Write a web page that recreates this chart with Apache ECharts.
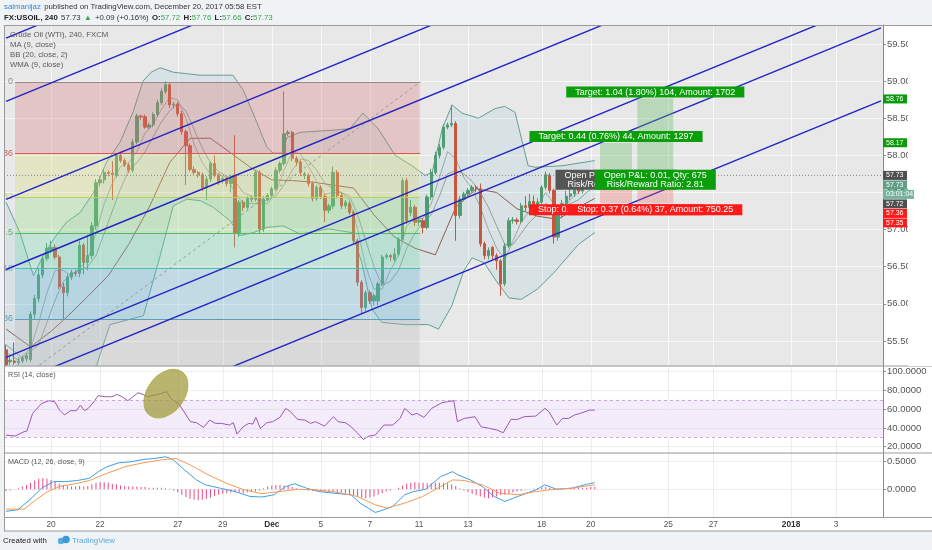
<!DOCTYPE html>
<html><head><meta charset="utf-8"><title>USOIL 240</title>
<script src="https://cdn.jsdelivr.net/npm/echarts@6.0.0/dist/echarts.min.js"></script>
<style>html,body{margin:0;padding:0;background:#f0f3f6;overflow:hidden}#chart{width:932px;height:550px}</style>
</head><body><div id="chart"></div>
<script>
// ================= DATA =================
const SLOTS = 215; // 4h bar slots on the time scale (history + empty future)
const tickIdx = [11,23,42,53,65,77,89,101,113,131,143,162,173,192,203];
const tickLabels = ['20','22','27','29','Dec','5','7','11','13','18','20','25','27','2018','3'];

// [open, close, low, high]
const candles = [
[55.38,55.18,55.16,55.45],[55.22,55.24,55.18,55.30],[55.23,55.21,55.18,55.48],[55.21,55.23,55.17,55.28],
[55.23,55.27,55.20,55.30],[55.26,55.30,55.22,55.34],[55.25,55.86,55.22,55.90],[55.86,56.07,55.80,56.12],
[56.07,56.39,56.02,56.47],[56.39,56.61,56.35,56.65],[56.61,56.75,56.58,56.82],[56.73,56.76,56.68,56.85],
[56.76,56.63,56.60,56.80],[56.63,56.23,56.20,56.66],[56.23,56.15,55.79,56.28],[56.15,56.36,56.10,56.40],
[56.36,56.42,56.32,56.46],[56.42,56.41,56.37,56.46],[56.41,56.79,56.36,56.85],[56.79,56.56,56.40,56.82],
[56.56,56.65,56.45,56.92],[56.65,57.05,56.60,57.10],[57.05,57.63,57.00,57.68],[57.63,57.67,57.58,57.72],
[57.67,57.77,57.62,57.82],[57.77,57.76,57.72,57.80],[57.76,57.74,57.40,57.92],[57.73,58.00,57.70,58.03],
[58.00,57.93,57.90,58.05],[57.93,57.87,57.84,57.96],[57.87,57.80,57.76,57.90],[57.80,58.18,57.77,58.22],
[58.18,58.53,58.15,58.56],[58.53,58.52,58.48,58.55],[58.52,58.38,58.36,58.55],[58.38,58.41,58.35,58.44],
[58.41,58.55,58.38,58.58],[58.55,58.71,58.52,58.75],[58.71,58.86,58.68,58.90],[58.86,58.95,58.83,59.00],
[58.95,58.68,58.64,58.97],[58.68,58.69,58.63,58.72],[58.69,58.56,58.52,58.72],[58.56,58.32,58.28,58.60],
[58.32,58.13,57.60,58.35],[58.13,57.81,57.78,58.16],[57.81,57.77,57.74,57.85],[57.77,57.74,57.70,57.79],
[57.74,57.56,57.52,57.77],[57.56,57.68,57.40,57.72],[57.68,57.89,57.64,57.92],[57.89,57.73,57.70,58.00],
[57.73,57.65,57.60,57.76],[57.67,57.69,57.62,57.72],[57.69,57.62,57.58,57.72],[57.62,57.71,57.50,57.74],
[57.73,56.96,56.76,58.27],[56.96,57.37,56.90,57.40],[57.37,57.30,57.25,57.40],[57.30,57.42,57.27,57.45],
[57.42,57.41,57.37,57.46],[57.41,57.77,57.38,57.80],[57.77,57.01,56.95,57.80],[57.01,57.41,56.97,57.45],
[57.41,57.46,57.38,57.49],[57.46,57.55,57.42,57.58],[57.55,57.80,57.52,57.84],[57.80,57.89,57.76,57.92],
[57.89,58.29,57.86,58.86],[58.29,58.31,58.26,58.34],[58.31,57.96,57.92,58.33],[57.96,57.91,57.86,57.99],
[57.91,57.77,57.72,57.93],[57.73,57.75,57.68,57.78],[57.73,57.62,57.58,57.76],[57.62,57.42,57.38,57.65],
[57.42,57.57,57.39,57.60],[57.57,57.45,57.41,57.60],[57.45,57.26,57.10,57.48],[57.26,57.32,57.22,57.35],
[57.32,57.77,57.28,57.85],[57.77,57.46,57.42,57.80],[57.46,57.32,57.28,57.50],[57.32,57.37,57.28,57.40],
[57.35,57.23,57.20,57.38],[57.23,56.85,56.80,57.26],[56.85,56.29,56.24,56.88],[56.29,55.95,55.86,56.32],
[55.95,56.15,55.90,56.18],[56.15,56.04,56.00,56.18],[56.04,56.11,55.98,56.14],[56.04,56.27,55.98,56.30],
[56.27,56.63,56.24,56.66],[56.63,56.65,56.60,56.68],[56.65,56.63,56.58,56.67],[56.60,56.67,56.56,56.75],
[56.67,56.87,56.64,56.90],[56.87,57.66,56.85,57.70],[57.66,57.12,57.08,57.70],[57.23,57.30,57.18,57.40],
[57.30,57.10,57.05,57.33],[57.10,57.13,57.05,57.16],[57.12,57.03,56.95,57.15],[57.03,57.44,57.00,57.47],
[57.44,57.77,57.40,57.82],[57.77,58.00,57.74,58.05],[58.00,58.11,57.96,58.15],[58.11,58.38,58.08,58.42],
[58.38,58.41,58.35,58.44],[58.41,58.43,58.38,58.68],[58.43,57.19,56.85,58.46],[57.19,57.41,57.15,57.45],
[57.41,57.48,57.38,57.51],[57.48,57.53,57.45,57.56],[57.53,57.57,57.50,57.60],[57.57,57.55,57.50,57.60],
[57.55,56.81,56.77,57.62],[56.81,56.65,56.60,56.84],[56.65,56.72,56.60,56.76],[56.76,56.65,56.60,56.78],
[56.65,56.58,56.46,56.68],[56.58,56.27,56.11,56.60],[56.27,56.78,56.24,56.82],[56.78,57.12,56.75,57.16],
[57.12,57.13,57.08,57.17],[57.13,57.11,57.07,57.16],[57.11,57.32,57.08,57.36],[57.32,57.30,57.25,57.45],
[57.30,57.38,57.26,57.48],[57.38,57.33,57.28,57.46],[57.33,57.37,57.28,57.42],[57.37,57.57,57.33,57.60],
[57.57,57.74,57.54,57.78],[57.73,57.53,57.49,57.76],[57.53,56.90,56.81,57.55],[56.90,57.20,56.85,57.24],
[57.20,57.35,57.15,57.40],[57.35,57.45,57.30,57.52],[57.45,57.48,57.40,57.55],[57.48,57.55,57.44,57.60],
[57.55,57.52,57.48,57.62],[57.52,57.62,57.49,57.66],[57.62,57.66,57.58,57.72],[57.66,57.70,57.62,57.76],
[57.72,57.73,57.66,57.76]
];

// Bollinger Bands (20, close, 2) read at [bar, price]
const bbUpper = [[0,57.37],[3.4,56.96],[6.7,56.38],[9.1,56.65],[11.6,56.87],[14.8,57.10],[18.1,57.23],[21.4,57.50],
[24.6,57.91],[27.9,58.18],[31.1,58.59],[33.5,59.0],[35.5,59.12],[37.7,59.18],[40.9,59.12],[47.5,59.08],[55.5,59.08],
[58,58.88],[60.4,58.57],[63.8,58.11],[65.3,58.03],[67.5,58.03],[68.7,58.24],[71.9,58.31],[80,58.34],[84.1,58.36],
[87.3,58.57],[91,58.36],[95.2,58.0],[99.3,57.86],[102.5,57.73],[104.2,57.77],[106.7,58.36],[109.1,58.68],[111.5,58.57],
[115.5,58.50],[119.6,58.63],[122,58.66],[124.5,58.58],[127.7,57.86],[129.4,57.84],[136,57.86],[144,57.93]];
const bbLower = [[0,54.60],[10,54.40],[18,54.80],[22.2,55.18],[25.4,55.72],[33.6,55.84],[37.7,56.65],[40.9,57.32],
[44.2,57.41],[47.5,57.39],[50.7,57.30],[54.8,57.12],[57.2,56.92],[60.5,56.96],[63.8,57.03],[67.8,57.05],[71.9,56.94],
[78.9,57.01],[84.6,56.96],[87,56.56],[89.5,55.93],[91.9,55.75],[97.6,55.72],[103.3,55.72],[105.8,55.66],[109,55.97],
[112,56.45],[114,56.62],[117,56.55],[120,56.30],[123,56.08],[126,56.06],[130,56.20],[134,56.42],[140,56.80],[144,56.96]];
const bbBasis = [[0,55.66],[6,55.42],[11,55.63],[15,55.83],[20,56.10],[25,56.38],[30,56.80],[35,57.30],[40,57.90],
[45,58.23],[50,58.23],[55,58.03],[60,57.83],[65,57.67],[70,57.66],[75,57.64],[80,57.60],[85,57.56],[90,57.20],
[95,56.90],[100,56.75],[105,56.66],[110,57.30],[115,57.55],[120,57.50],[125,57.28],[130,57.18],[135,57.14],[140,57.30],[144,57.42]];
const ma9 = [[0,55.45],[4,55.27],[8,55.45],[10,55.75],[12,56.05],[14,56.30],[16,56.40],[18,56.45],[20,56.50],[22,56.65],
[24,56.95],[26,57.25],[28,57.55],[30,57.80],[32,57.90],[34,58.05],[36,58.25],[38,58.45],[40,58.60],[42,58.70],[44,58.60],
[46,58.35],[48,58.10],[50,57.90],[52,57.78],[54,57.72],[56,57.65],[58,57.50],[60,57.45],[62,57.38],[64,57.40],[66,57.45],
[68,57.60],[70,57.80],[72,57.95],[74,57.93],[76,57.80],[78,57.62],[80,57.55],[82,57.50],[84,57.45],[86,57.20],[88,56.85],
[90,56.50],[92,56.25],[94,56.30],[96,56.45],[98,56.75],[100,56.95],[102,57.10],[104,57.20],[106,57.45],[108,57.75],
[110,57.80],[112,57.75],[114,57.65],[116,57.50],[118,57.30],[120,57.05],[122,56.80],[124,56.80],[126,56.95],[128,57.10],
[130,57.20],[132,57.35],[134,57.30],[136,57.30],[138,57.35],[140,57.40],[142,57.50],[144,57.58]];
const wma9 = [[0,55.35],[3,55.24],[6,55.40],[8,55.75],[10,56.15],[12,56.45],[14,56.45],[16,56.38],[18,56.48],[20,56.60],
[22,56.95],[24,57.35],[26,57.62],[28,57.85],[30,57.90],[32,58.05],[34,58.30],[36,58.42],[38,58.62],[40,58.78],[42,58.75],
[44,58.50],[46,58.15],[48,57.90],[50,57.75],[52,57.75],[54,57.70],[56,57.50],[58,57.35],[60,57.35],[62,57.35],[64,57.35],
[66,57.50],[68,57.80],[70,58.05],[72,58.02],[74,57.85],[76,57.65],[78,57.48],[80,57.50],[82,57.50],[84,57.40],[86,57.00],
[88,56.50],[90,56.20],[92,56.20],[94,56.45],[96,56.65],[98,57.05],[100,57.15],[102,57.15],[104,57.35],[106,57.70],
[108,58.05],[110,57.95],[112,57.70],[114,57.55],[116,57.30],[118,57.00],[120,56.75],[122,56.60],[124,56.85],[126,57.10],
[128,57.25],[130,57.32],[132,57.50],[134,57.35],[136,57.25],[138,57.40],[140,57.50],[142,57.60],[144,57.67]];

// Fibonacci retracement drawing
const fibPrices = [58.99, 58.03, 57.44, 56.96, 56.48, 55.80, 54.93];
const fibLevels = ['0','0.236','0.382','0.5','0.618','0.786','1'];
const fibFrom = 2.2, fibTo = 101.3;

// Parallel channel lines: price at bar 0, common slope per bar
const channelStart = [59.58, 58.726, 57.406, 56.463, 55.278, 54.887, 53.904];
const channelSlope = 0.02257;

const currentPrice = 57.73;

// Long position tools
const posFrom = [145.3, 154.4], posTo = [153.1, 163.2];
const posEntry = [57.725, 57.725], posTarget = [58.165, 58.765], posStop = [57.355, 57.355];
const posTargetText = ['Target: 0.44 (0.76%) 44, Amount: 1297', 'Target: 1.04 (1.80%) 104, Amount: 1702'];
const posStopText = ['Stop: 0.37 (0.64%) 37, Amount: 750.25', 'Stop: 0.37 (0.64%) 37, Amount: 750.25'];
const posPnlText = ['Open P&L: 0.01, Qty: 675\nRisk/Reward Ratio: 1.19', 'Open P&L: 0.01, Qty: 675\nRisk/Reward Ratio: 2.81'];

// RSI (14)
const rsi = [[0,32.4],[2.2,31.4],[4.4,36],[5.1,36.7],[6.5,55.6],[8.7,66.2],[10.5,69.1],[11.9,68],[13.1,59.1],[14.3,53.8],
[15.7,58.4],[17.2,58.4],[18.2,64.4],[19.2,58.4],[20.1,60.9],[21.5,68],[22.5,74.4],[24.5,73.3],[25.9,73.3],[27.1,75.8],
[28.4,73.3],[29.8,69.1],[32.3,77.6],[33.5,75.8],[34.6,73.3],[37.1,75.8],[39.3,78.7],[40.5,70.5],[42.2,66.2],[45.1,46.7],
[46.6,45.6],[48.3,40.6],[49.8,48.4],[51.2,44.9],[52.7,44.9],[54.6,43.1],[55.6,45.6],[56.5,33.5],[58,41.3],[59.4,44.9],
[60.4,44.2],[61.1,51.3],[62.2,39.6],[63.8,45.6],[65.2,46.7],[67,51.3],[68.4,60.9],[69.6,57.3],[71.3,49.2],[73.1,48.4],
[74.5,44.9],[75.7,46.7],[77.9,42],[80.1,52],[81.2,46.7],[83,45.6],[84.4,41.3],[85.9,34.9],[87.4,27.8],[88.8,31.4],
[90.3,32.4],[92.4,43.1],[94.6,43.1],[96.4,50.2],[97.5,60.9],[99.3,53.8],[100.5,55.6],[102.2,51.3],[104.1,60.9],
[106.6,66.9],[108,68],[109.5,69.1],[110.4,46.7],[112.1,50.2],[114.7,52],[116.2,41.3],[118.2,39.6],[120.1,37.8],
[121.6,34.9],[123.5,49.2],[125.2,49.2],[126.7,52],[129.6,52.7],[131.8,60.9],[132.8,57.3],[134.7,43.1],[136.1,50.2],
[137.6,50.2],[139,53.8],[140.5,55.6],[142.7,59.1],[144,59.1]];
const rsiMarkCenter = [39.1, 76.7];

// MACD (12, 26, close, 9)
const macd = [[0,-0.40],[2.9,-0.37],[5.8,-0.19],[8.7,0.02],[11.6,0.14],[14.6,0.14],[17.5,0.16],[20.4,0.20],[22.6,0.32],
[24.7,0.41],[27.6,0.48],[30.6,0.50],[33.5,0.54],[36.4,0.56],[39,0.59],[40.8,0.54],[43.7,0.35],[46.6,0.17],[48.8,0.08],
[52.4,0.02],[56,-0.04],[59.7,-0.13],[62.6,-0.14],[65.5,-0.10],[68.4,0.05],[70.6,0.10],[73.5,0.02],[76.4,-0.04],
[80.1,-0.07],[84.4,-0.10],[86.6,-0.25],[90.3,-0.42],[92.4,-0.37],[94.6,-0.31],[97.5,-0.10],[99.7,-0.04],[102.6,0.0],
[106.3,0.23],[109.2,0.32],[110.6,0.26],[113.6,0.17],[116.5,0.05],[119.4,-0.13],[122,-0.22],[125.2,-0.13],[129.6,-0.01],
[131.8,0.08],[134.7,0.0],[138.3,0.02],[142,0.09],[144,0.12]];
const macdSignal = [[0,-0.36],[4.4,-0.36],[7.3,-0.19],[10.2,-0.04],[13.1,0.05],[17.5,0.11],[20.4,0.16],[24.7,0.29],
[29.1,0.41],[33.5,0.48],[37.8,0.53],[41.5,0.56],[45.1,0.44],[49.5,0.26],[53.9,0.11],[58.2,-0.01],[62.6,-0.08],[67,-0.04],
[71.3,0.0],[75.7,-0.01],[81.5,-0.06],[85.9,-0.13],[90.3,-0.28],[93.2,-0.34],[97.5,-0.25],[101.9,-0.13],[106.3,0.05],
[109.2,0.17],[112.1,0.16],[116.5,0.08],[120.8,-0.07],[125.2,-0.10],[129.6,-0.04],[134,0.0],[138.3,0.02],[144,0.08]];
const macdHist = [
-0.03,-0.02,0.0,0.02,0.05,
0.08,0.12,0.16,0.19,0.2,0.19,0.17,0.14,
0.1,0.08,0.06,0.05,0.05,0.06,0.05,0.06,
0.09,0.12,0.13,0.13,0.12,0.1,0.09,0.07,
0.06,0.05,0.05,0.05,0.04,0.04,0.03,0.03,0.03,0.03,0.02,0.01,
-0.02,-0.06,-0.1,-0.14,-0.17,-0.19,-0.2,-0.19,-0.17,-0.15,-0.12,-0.1,-0.08,-0.07,-0.06,
-0.05,-0.06,-0.07,-0.06,-0.05,-0.04,-0.02,
0.02,0.05,0.07,0.08,0.08,0.07,0.06,0.04,
0.02,0.0,-0.01,-0.02,-0.03,-0.03,-0.03,-0.04,-0.05,
-0.05,-0.06,-0.06,-0.07,-0.09,-0.11,-0.13,-0.15,-0.16,-0.15,-0.13,
-0.1,-0.07,-0.04,-0.02,0.0,0.03,
0.07,0.1,0.12,0.13,0.12,0.12,0.11,0.11,0.12,0.12,
0.12,0.11,0.09,0.06,0.02,-0.02,
-0.05,-0.08,-0.11,-0.13,-0.15,-0.16,-0.15,-0.13,-0.11,-0.1,
-0.08,-0.06,-0.04,-0.03,-0.01,0.0,0.01,0.02,
0.03,0.04,0.03,0.02,0.01,0.01,0.02,0.02,0.03,0.03,0.03,0.03,0.04,0.04];

// Price-scale badges
const badgeText  = ['58.76','58.17','57.73','57.73','03:01:04','57.72','57.36','57.35'];
const badgePrice = [58.76, 58.17, 57.73, 57.73, 57.73, 57.72, 57.36, 57.35];
const badgeColor = ['#0a9a0a','#0a9a0a','#4f4f4f','#5f9f86','#74b39d','#4f4f4f','#ff1a1a','#ff1a1a'];

// ================= STYLE =================
const FONT = '"Liberation Sans", Arial, sans-serif';
const UP = '#4f9c72', DOWN = '#c8563f';
const fibLine = ['#8c8c8c','#e05555','#b8d060','#55bb55','#55bdb0','#5a9cbd','#8c8c8c'];
const fibFill = ['rgba(220,117,117,0.3)','rgba(217,223,117,0.3)','rgba(147,223,123,0.3)','rgba(110,220,173,0.3)','rgba(103,187,220,0.3)','rgba(183,183,183,0.3)'];
const PRICE_MIN = 55.163, PRICE_MAX = 59.756;
const tickSet = new Set(tickIdx);
const cats = Array.from({length: SLOTS}, (_, i) => 'b' + i);

const chart = echarts.init(document.getElementById('chart'), null, {renderer: 'canvas', width: 932, height: 550});

const grids = [
  {left: 4, right: 49, top: 25, height: 341, show: true, backgroundColor: '#e8e8e8', borderWidth: 0},
  {left: 4, right: 49, top: 366, height: 87, show: true, backgroundColor: '#ffffff', borderWidth: 0},
  {left: 4, right: 49, top: 453, height: 64, show: true, backgroundColor: '#ffffff', borderWidth: 0}
];

function catAxis(g, showLabels) {
  return {type: 'category', gridIndex: g, data: cats, boundaryGap: true, position: 'bottom',
    axisLine: {show: false, onZero: false}, axisTick: {show: false}, splitLine: {show: false},
    axisLabel: showLabels ? {
      show: true, interval: (i) => tickSet.has(i), margin: 4, color: '#555', fontSize: 8.3, fontFamily: FONT,
      formatter: (v, i) => { const k = tickIdx.indexOf(i); if (k < 0) return ''; const t = tickLabels[k];
        return (t === 'Dec' || t === '2018') ? '{b|' + t + '}' : t; },
      rich: {b: {fontWeight: 'bold', fontSize: 8.3, color: '#333', fontFamily: FONT}}
    } : {show: false}};
}
function valAxis(g) {
  return {type: 'value', gridIndex: g, min: -0.5, max: SLOTS - 0.5, show: false, position: 'top',
    axisLine: {onZero: false}, splitLine: {show: false}};
}

function vgrid(xi, yi, yRef, color) {
  return {type: 'custom', xAxisIndex: xi, yAxisIndex: yi, z: 1, silent: true, clip: true,
    data: tickIdx.map(i => [i, yRef]),
    renderItem(params, api) {
      const cs = params.coordSys; const x = Math.round(api.coord([api.value(0), api.value(1)])[0]) + 0.5;
      return {type: 'line', shape: {x1: x, y1: cs.y, x2: x, y2: cs.y + cs.height}, style: {stroke: color, lineWidth: 1}};
    }};
}
function lineS(xi, yi, data, color, width, z, extra) {
  return Object.assign({type: 'line', xAxisIndex: xi, yAxisIndex: yi, data, showSymbol: false, symbol: 'none',
    silent: true, z: z || 3, lineStyle: {color, width: width || 1}}, extra || {});
}

const series = [
  vgrid(1, 0, PRICE_MIN, 'rgba(255,255,255,0.7)'),
  // BB fill
  {type: 'custom', xAxisIndex: 1, yAxisIndex: 0, z: 2, clip: true, silent: true, data: [[0, PRICE_MIN]],
    renderItem(params, api) {
      const pts = bbUpper.map(d => api.coord(d)).concat(bbLower.slice().reverse().map(d => api.coord(d)));
      return {type: 'polygon', shape: {points: pts}, style: {fill: 'rgba(110,175,195,0.13)'}};
    }},
  lineS(1, 0, bbUpper, '#649f94', 1, 3),
  lineS(1, 0, bbLower, '#649f94', 1, 3),
  lineS(1, 0, bbBasis, '#8f5b52', 1, 3),
  lineS(1, 0, ma9, '#7f8f8b', 0.8, 3),
  lineS(1, 0, wma9, '#8c9896', 0.8, 3),
  {type: 'candlestick', xAxisIndex: 0, yAxisIndex: 0, data: candles, barWidth: 2.8, z: 4, silent: true,
    itemStyle: {color: UP, color0: DOWN, borderColor: UP, borderColor0: DOWN, borderWidth: 1}},
  // Fibonacci overlay
  {type: 'custom', xAxisIndex: 1, yAxisIndex: 0, z: 5, clip: true, silent: true,
    data: fibPrices.map((p, k) => [k, p]),
    renderItem(params, api) {
      const k = api.value(0), p = api.value(1);
      const a = api.coord([fibFrom, p]), b = api.coord([fibTo, p]);
      const ch = [];
      if (k < fibPrices.length - 1) {
        const c = api.coord([fibTo, fibPrices[k + 1]]);
        ch.push({type: 'rect', shape: {x: a[0], y: a[1], width: b[0] - a[0], height: c[1] - a[1]}, style: {fill: fibFill[k]}});
      }
      const yy = Math.round(a[1]) + 0.5;
      ch.push({type: 'line', shape: {x1: a[0], y1: yy, x2: b[0], y2: yy}, style: {stroke: fibLine[k], lineWidth: 1}});
      ch.push({type: 'text', style: {text: fibLevels[k], x: a[0] - 2, y: a[1], align: 'right', verticalAlign: 'middle',
        fill: fibLine[k], font: '9px ' + FONT}});
      return {type: 'group', children: ch};
    }},
  lineS(1, 0, [[fibFrom, fibPrices[6]], [fibTo, fibPrices[0]]], '#9a9a9a', 1, 6, {lineStyle: {color: '#9a9a9a', width: 1, type: [3, 3]}}),
  // current price dotted line
  lineS(1, 0, [[-0.5, currentPrice], [SLOTS - 0.5, currentPrice]], '#8a8a8a', 1, 6, {lineStyle: {color: '#8a8a8a', width: 1, type: [1, 2]}}),
  // channel lines
  {type: 'custom', xAxisIndex: 1, yAxisIndex: 0, z: 7, clip: true, silent: true,
    data: channelStart.map(p => [0, p]),
    renderItem(params, api) {
      const p = api.value(1);
      const a = api.coord([0, p]), b = api.coord([SLOTS - 1, p + channelSlope * (SLOTS - 1)]);
      return {type: 'line', shape: {x1: a[0], y1: a[1], x2: b[0], y2: b[1]}, style: {stroke: '#2323c6', lineWidth: 1.4}};
    }},
  // position boxes
  {type: 'custom', xAxisIndex: 1, yAxisIndex: 0, z: 8, clip: true, silent: true,
    data: posFrom.map((f, i) => [f, posEntry[i], i]),
    renderItem(params, api) {
      const i = api.value(2);
      const t = api.coord([posFrom[i], posTarget[i]]), e = api.coord([posTo[i], posEntry[i]]), s = api.coord([posTo[i], posStop[i]]);
      return {type: 'group', children: [
        {type: 'rect', shape: {x: t[0], y: t[1], width: e[0] - t[0], height: e[1] - t[1]}, style: {fill: 'rgba(90,185,90,0.33)'}},
        {type: 'rect', shape: {x: t[0], y: e[1], width: e[0] - t[0], height: s[1] - e[1]}, style: {fill: 'rgba(240,100,100,0.3)'}}
      ]};
    }},
  // position labels
  {type: 'custom', xAxisIndex: 1, yAxisIndex: 0, z: 9, clip: false, silent: true,
    data: posFrom.map((f, i) => [f, posEntry[i], i]),
    renderItem(params, api) {
      const i = api.value(2);
      const cx = (api.coord([posFrom[i], posEntry[i]])[0] + api.coord([posTo[i], posEntry[i]])[0]) / 2;
      const yt = api.coord([posFrom[i], posTarget[i]])[1], ye = api.coord([posFrom[i], posEntry[i]])[1], ys = api.coord([posFrom[i], posStop[i]])[1];
      const base = {align: 'center', fill: '#fff', font: '9px ' + FONT, padding: [1, 9, 1, 9], lineHeight: 9};
      return {type: 'group', children: [
        {type: 'text', z2: 1, style: Object.assign({}, base, {text: posTargetText[i], x: cx, y: yt - 1, verticalAlign: 'bottom', backgroundColor: '#0a9e0a'})},
        {type: 'text', z2: 1, style: Object.assign({}, base, {text: posPnlText[i], x: cx, y: ye + 4, verticalAlign: 'middle', backgroundColor: i === 0 ? '#555555' : '#0a9e0a', padding: [1, 9, 1, 9]})},
        {type: 'text', z2: 1, style: Object.assign({}, base, {text: posStopText[i], x: cx, y: ys + 1, verticalAlign: 'top', backgroundColor: '#ff1a1a'})}
      ]};
    }},
  // ---- RSI pane ----
  vgrid(3, 1, 50, '#eceef2'),
  lineS(3, 1, rsi, '#9b59b6', 1, 4, {
    markArea: {silent: true, itemStyle: {color: 'rgba(205,160,235,0.2)'}, data: [[{yAxis: 30}, {yAxis: 70}]]},
    markLine: {silent: true, symbol: 'none', label: {show: false}, lineStyle: {color: '#c5aed1', type: [3, 3], width: 1},
      data: [{yAxis: 70}, {yAxis: 30}]}
  }),
  {type: 'custom', xAxisIndex: 3, yAxisIndex: 1, z: 6, clip: true, silent: true, data: [rsiMarkCenter],
    renderItem(params, api) {
      const c = api.coord([api.value(0), api.value(1)]);
      const a = 27, b = 18.5;
      return {type: 'path', x: c[0], y: c[1], rotation: 53 * Math.PI / 180,
        shape: {pathData: `M ${-a} 0 A ${a} ${b} 0 1 0 ${a} 0 A ${a} ${b} 0 1 0 ${-a} 0 Z`},
        style: {fill: 'rgba(158,152,55,0.72)', stroke: 'rgba(175,172,75,0.9)', lineWidth: 1}};
    }},
  // ---- MACD pane ----
  vgrid(5, 2, 0, '#eceef2'),
  {type: 'bar', xAxisIndex: 4, yAxisIndex: 2, data: macdHist, barWidth: 1, silent: true, z: 3, itemStyle: {color: '#ea4a80'}},
  lineS(5, 2, macd, '#3e9fe8', 1, 4),
  lineS(5, 2, macdSignal, '#f49a55', 1, 4)
];

const yLabel = {color: '#555', fontSize: 9.5, fontFamily: FONT, margin: 4, showMinLabel: false, showMaxLabel: false};
function yAx(g, min, max, split, fmt, splitColor) {
  return {type: 'value', gridIndex: g, position: 'right', min, max, splitNumber: split,
    axisLine: {show: true, onZero: false, lineStyle: {color: '#8a8a8a'}},
    axisTick: {show: true, length: 3, lineStyle: {color: '#8a8a8a'}},
    axisLabel: Object.assign({}, yLabel, {formatter: fmt}),
    splitLine: {show: true, lineStyle: {color: splitColor}}};
}
const option = {
  animation: false,
  backgroundColor: '#f0f3f6',
  grid: grids,
  xAxis: [catAxis(0, false), valAxis(0), catAxis(1, false), valAxis(1), catAxis(2, true), valAxis(2)],
  yAxis: [
    yAx(0, PRICE_MIN, PRICE_MAX, 9, v => v.toFixed(2), 'rgba(255,255,255,0.7)'),
    yAx(1, 13.3, 106.1, 5, v => v.toFixed(4), '#eceef2'),
    yAx(2, -0.502, 0.658, 2, v => (v < -0.01 ? '' : v.toFixed(4)), '#eceef2')
  ],
  series
};
chart.setOption(option);

// ---- overlays: header, legends, borders, price-scale badges ----
const G = [];
G.push({type: 'rect', z: -10, silent: true, shape: {x: 4, y: 517, width: 928, height: 14}, style: {fill: '#ffffff'}});
G.push({type: 'rect', z: -10, silent: true, shape: {x: 883, y: 25, width: 49, height: 492}, style: {fill: '#ffffff'}});
const HF = 7.8;
G.push({type: 'text', z: 50, style: {x: 4, y: 7, verticalAlign: 'middle',
  text: '{a|salmanijaz} {b|published on TradingView.com, December 20, 2017 05:58 EST}',
  rich: {a: {fill: '#3b86c8', fontSize: HF, fontFamily: FONT}, b: {fill: '#333', fontSize: HF, fontFamily: FONT}}}});
G.push({type: 'text', z: 50, style: {x: 4, y: 17.5, verticalAlign: 'middle',
  text: '{k|FX:USOIL, 240} {v|57.73} {g|\u25B2} {v|+0.09 (+0.16%)} {k|O:}{g|57.72} {k|H:}{g|57.76} {k|L:}{g|57.66} {k|C:}{g|57.73}',
  rich: {k: {fill: '#222', fontWeight: 'bold', fontSize: HF, fontFamily: FONT},
    v: {fill: '#333', fontSize: HF, fontFamily: FONT},
    g: {fill: '#3aa84a', fontSize: HF, fontFamily: FONT}}}});
['Crude Oil (WTI), 240, FXCM', 'MA (9, close)', 'BB (20, close, 2)', 'WMA (9, close)'].forEach((t, i) => {
  G.push({type: 'text', z: 50, style: {x: 10, y: 35 + i * 10, verticalAlign: 'middle', text: t, fill: '#5a5a5a', font: '7.8px ' + FONT}});
});
G.push({type: 'text', z: 50, style: {x: 8, y: 375, verticalAlign: 'middle', text: 'RSI (14, close)', fill: '#555', font: '7.2px ' + FONT}});
G.push({type: 'text', z: 50, style: {x: 8, y: 462, verticalAlign: 'middle', text: 'MACD (12, 26, close, 9)', fill: '#555', font: '7.2px ' + FONT}});
[[4, 25.5, 932, 25.5], [4, 366, 932, 366], [4, 453, 932, 453], [4, 517.5, 932, 517.5], [4.5, 25, 4.5, 531], [4, 531, 932, 531]].forEach(l => {
  G.push({type: 'line', z: 40, silent: true, shape: {x1: l[0], y1: l[1], x2: l[2], y2: l[3]}, style: {stroke: '#9a9a9a', lineWidth: 1}});
});
G.push({type: 'rect', z: 45, silent: true, shape: {x: 908, y: 26, width: 24, height: 340}, style: {fill: '#ffffff'}});
let prevY = -100;
badgeText.forEach((t, i) => {
  let y = chart.convertToPixel({yAxisIndex: 0}, badgePrice[i]);
  if (y < prevY + 9.5) y = prevY + 9.5;
  prevY = y;
  const wide = t.indexOf(':') >= 0;
  G.push({type: 'rect', z: 46, silent: true, shape: {x: 883, y: y - 4.5, width: wide ? 31 : 24, height: 9}, style: {fill: badgeColor[i]}});
  G.push({type: 'text', z: 47, silent: true, style: {x: 886, y: y, verticalAlign: 'middle', text: t, fill: '#fff', font: '7px ' + FONT}});
});
G.push({type: 'text', z: 50, style: {x: 3, y: 540.5, verticalAlign: 'middle', text: 'Created with', fill: '#222', font: '7.8px ' + FONT}});
G.push({type: 'circle', z: 50, shape: {cx: 61, cy: 541, r: 3.2}, style: {fill: '#5aaee0'}});
G.push({type: 'circle', z: 50, shape: {cx: 66, cy: 539.5, r: 3.8}, style: {fill: '#3c9ad8'}});
G.push({type: 'text', z: 50, style: {x: 72, y: 540.5, verticalAlign: 'middle', text: 'TradingView', fill: '#5aa6d9', font: '7.8px ' + FONT}});
chart.setOption({graphic: G});
</script></body></html>
